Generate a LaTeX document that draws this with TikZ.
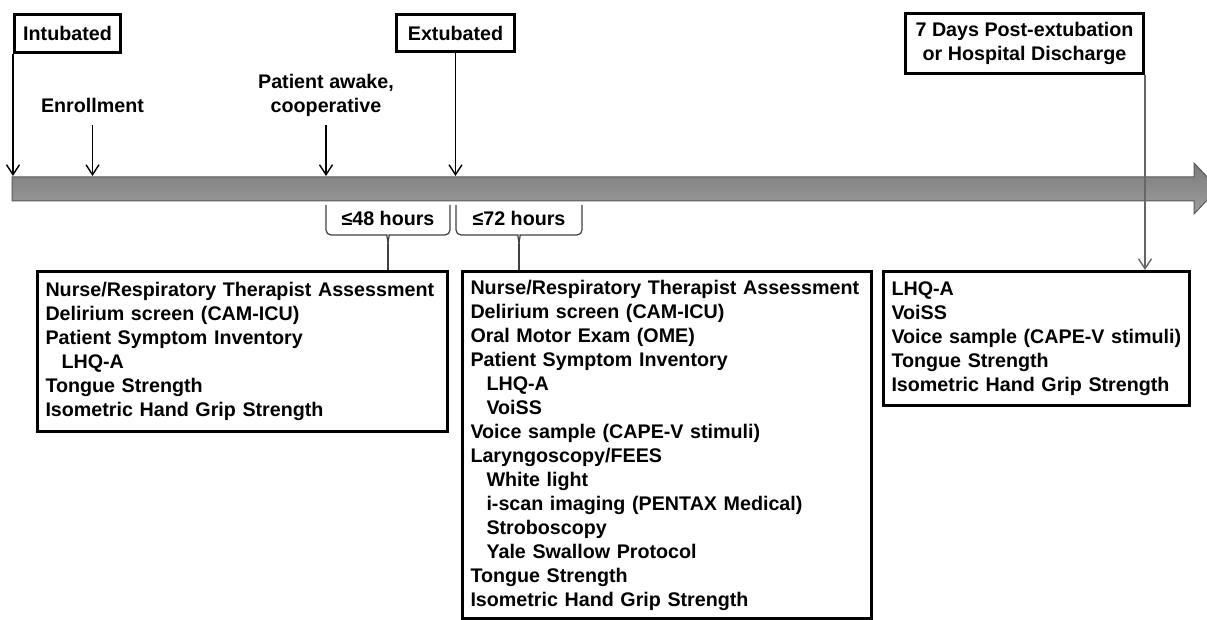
\documentclass[tikz,border=0pt]{standalone}
\usepackage{fontspec}
\setmainfont{Liberation Sans}
\usetikzlibrary{arrows.meta}

\begin{document}
\begin{tikzpicture}[x=1pt, y=-1pt, font=\bfseries\fontsize{19.7}{24}\selectfont,
	event/.style={rectangle, draw=black, line width=3pt, minimum height=38pt, inner sep=0pt, text centered, anchor=north west},
	listbox/.style={rectangle, draw=black, line width=3pt, anchor=north west, align=left, inner xsep=8pt, inner ysep=0pt},
	marker/.style={inner sep=0pt, align=center},
	arrow/.style={line width=1.4pt, -{Straight Barb[length=10pt,width=13pt]}},
	brace/.style={line width=1.2pt, black!75, rounded corners=5pt}]

	\useasboundingbox (0,0) rectangle (1207,620);
	\clip (0,0) rectangle (1207,620);

	% time line
	\shade [top color=black!52, bottom color=black!38, draw=black!65, line width=1pt]
		(12,177) -- (1194,177) -- (1194,163) -- (1218,188.5) -- (1194,214) -- (1194,201) -- (12,201) -- cycle;
	\coordinate (bar) at (0,176);

	\node (intub) [event, minimum width=106pt] at (13,13) {Intubated};
	\node (extub) [event, minimum width=118pt, minimum height=37pt] at (395,13) {Extubated};
	\node (post) [event, minimum width=238pt, minimum height=60pt, align=center] at (904,12) {7 Days Post-extubation\\or Hospital Discharge};
	\node (enroll) [marker] at (92.5,105) {Enrollment};
	\node (awake) [marker] at (326,95) {Patient awake,\\cooperative};

	\node (early) [listbox, text width=394pt, minimum width=410pt, minimum height=160pt] at (36,270) {Nurse/Respiratory Therapist Assessment\\Delirium screen (CAM-ICU)\\Patient Symptom Inventory\\\hspace*{16pt}LHQ-A\\Tongue Strength\\Isometric Hand Grip Strength};
	\node (mid) [listbox, text width=393pt, minimum width=409pt, minimum height=347pt] at (461,270) {Nurse/Respiratory Therapist Assessment\\Delirium screen (CAM-ICU)\\Oral Motor Exam (OME)\\Patient Symptom Inventory\\\hspace*{16pt}LHQ-A\\\hspace*{16pt}VoiSS\\Voice sample (CAPE-V stimuli)\\Laryngoscopy/FEES\\\hspace*{16pt}White light\\\hspace*{16pt}i-scan imaging (PENTAX Medical)\\\hspace*{16pt}Stroboscopy\\\hspace*{16pt}Yale Swallow Protocol\\Tongue Strength\\Isometric Hand Grip Strength};
	\node (late) [listbox, text width=290pt, minimum width=306pt, minimum height=134pt] at (882,270) {LHQ-A\\VoiSS\\Voice sample (CAPE-V stimuli)\\Tongue Strength\\Isometric Hand Grip Strength};

	\draw [arrow] (intub.south west) -- (intub.south west |- bar);
	\draw [arrow, shorten <=13pt] (enroll.south) -- (enroll.south |- bar);
	\draw [arrow, shorten <=9pt] (awake.south) -- (awake.south |- bar);
	\draw [arrow] (extub.south) -- (extub.south |- bar);
	\draw [arrow, black!60] (post.south east) -- (post.south east |- late.north);

	% braces
	\node (h48) at (388,218) {≤48 hours};
	\node (h72) at (519,218) {≤72 hours};
	\coordinate (tip1) at (388,244);
	\coordinate (tip2) at (519,244);
	\draw [brace] (326,205) -- (326,235) -- (382,235) to[out=0,in=90] (tip1);
	\draw [brace] (450,205) -- (450,235) -- (394,235) to[out=180,in=90] (tip1);
	\draw [brace] (tip1) -- (tip1 |- early.north);
	\draw [brace] (456,205) -- (456,235) -- (513,235) to[out=0,in=90] (tip2);
	\draw [brace] (582,205) -- (582,235) -- (525,235) to[out=180,in=90] (tip2);
	\draw [brace] (tip2) -- (tip2 |- mid.north);
\end{tikzpicture}
\end{document}
